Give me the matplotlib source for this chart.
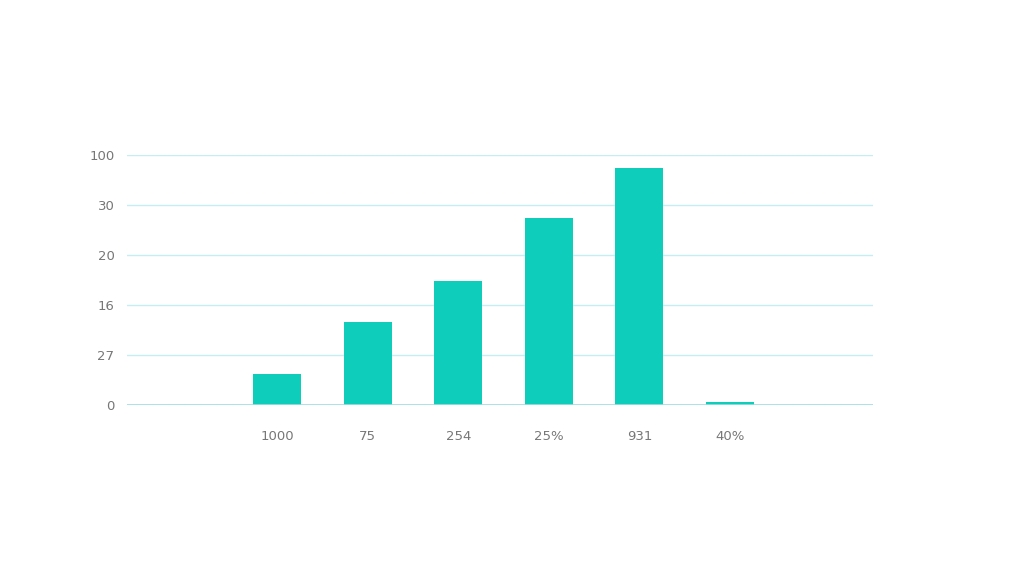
import numpy as np
from matplotlib import pyplot as plt

# -- Data --
categories = ['1000', '75', '254', '25%', '931', '40%']
values = [0.62, 1.66, 2.48, 3.74, 4.74, 0.05]  # in gridline units
y_tick_labels = ['0', '27', '16', '20', '30', '100']

BAR_COLOR = '#0ECDBA'
GRID_COLOR = '#C4EEF2'
TEXT_COLOR = '#777777'

fig = plt.figure(figsize=(10.24, 5.76), dpi=100)
ax = fig.add_axes([0.124, 0.2969, 0.7285, 0.434])

x = np.arange(len(categories))
ax.bar(x, values, width=0.53, color=BAR_COLOR, zorder=3)

ax.set_xlim(-1.66, 6.58)
ax.set_ylim(0, 5)
ax.set_yticks(np.arange(len(y_tick_labels)))
ax.set_yticklabels(y_tick_labels)
ax.set_xticks(x)
ax.set_xticklabels(categories)

ax.grid(axis='y', color=GRID_COLOR, linewidth=1.0, zorder=0)
ax.axhline(0, color='#A0DEE3', linewidth=1.2, zorder=4)
for s in ax.spines.values():
    s.set_visible(False)
ax.tick_params(axis='both', length=0, labelsize=9.5, colors=TEXT_COLOR)
ax.tick_params(axis='y', pad=9)
ax.tick_params(axis='x', pad=18)

fig.savefig('out.png', dpi=100, facecolor='white')
